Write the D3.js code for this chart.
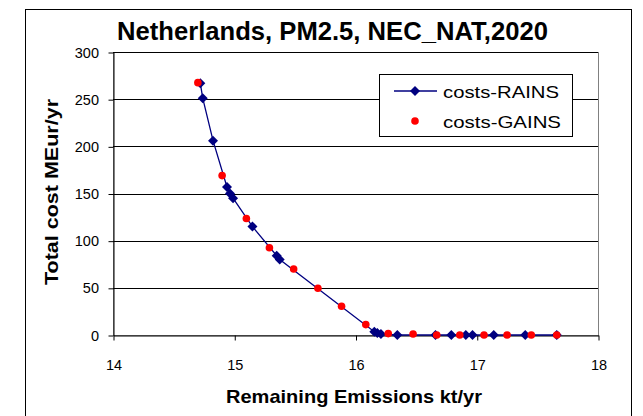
<!DOCTYPE html>
<html>
<head>
<meta charset="utf-8">
<script src="https://cdn.jsdelivr.net/npm/d3@7"></script>
<style>
  html, body { margin: 0; padding: 0; background: #fff; }
  svg { display: block; font-family: "Liberation Sans", Arial, sans-serif; }
</style>
</head>
<body>
<svg id="chart" width="643" height="416"></svg>
<script>
// Cost curve: remaining emissions (kt/yr) vs total cost (MEur/yr)
const rainsEmissions = [14.72, 14.74, 14.825, 14.94, 14.965, 14.99, 15.15, 15.35, 15.375,
                        16.155, 16.18, 16.21, 16.345, 16.66, 16.79, 16.91, 16.965, 17.14, 17.40, 17.66];
const rainsCosts     = [267, 251, 206, 157, 150, 145, 115, 84, 80,
                        3.5, 2, 1, 0, 0, 0, 0, 0, 0, 0, 0];

const gainsEmissions = [14.70, 14.90, 15.10, 15.29, 15.49, 15.69, 15.885, 16.085,
                        16.27, 16.475, 16.67, 16.86, 17.06, 17.25, 17.45, 17.66];
const gainsCosts     = [267.5, 169, 123.5, 92.5, 70, 49.5, 30.5, 11,
                        1.5, 1, 0, 0, 0, 0, 0, 0];

const xTicks = [14, 15, 16, 17, 18];
const yTicks = [0, 50, 100, 150, 200, 250, 300];

const titleText = "Netherlands, PM2.5, NEC_NAT,2020";
const xLabel = "Remaining Emissions kt/yr";
const yLabel = "Total cost MEur/yr";
const seriesNames = ["costs-RAINS", "costs-GAINS"];

const svg = d3.select("#chart");

const plot = { left: 113, right: 598, top: 52, bottom: 335 };
const x = d3.scaleLinear().domain([14, 18]).range([plot.left, plot.right]);
const y = d3.scaleLinear().domain([0, 300]).range([plot.bottom, plot.top]);

// outer chart frame
svg.append("rect")
  .attr("x", 25.5).attr("y", 9.5)
  .attr("width", 606).attr("height", 420)
  .attr("fill", "#fff").attr("stroke", "#000").attr("stroke-width", 1);

// plot area frame
svg.append("rect")
  .attr("x", plot.left + 0.5).attr("y", plot.top + 0.5)
  .attr("width", plot.right - plot.left).attr("height", plot.bottom - plot.top)
  .attr("fill", "#fff").attr("stroke", "#808080").attr("stroke-width", 1);

// horizontal gridlines
svg.append("g")
  .selectAll("line")
  .data(yTicks.filter(d => d > 0))
  .join("line")
  .attr("x1", plot.left).attr("x2", plot.right)
  .attr("y1", d => Math.round(y(d)) + 0.5).attr("y2", d => Math.round(y(d)) + 0.5)
  .attr("stroke", "#000").attr("stroke-width", 1);

// axes
const xAxis = d3.axisBottom(x).tickValues(xTicks).tickFormat(d3.format("d"))
  .tickSize(5).tickSizeOuter(0).tickPadding(19);
const yAxis = d3.axisLeft(y).tickValues(yTicks).tickFormat(d3.format("d"))
  .tickSize(5).tickSizeOuter(0).tickPadding(9.5);

const gx = svg.append("g")
  .attr("transform", `translate(0.5,${Math.round(y(0)) + 0.5})`)
  .call(xAxis);
const gy = svg.append("g")
  .attr("transform", `translate(${plot.left + 0.5},0.5)`)
  .call(yAxis);

gx.selectAll(".tick line").attr("y2", 5);
gx.selectAll(".tick text").attr("y", 24);

[gx, gy].forEach(g => {
  g.select(".domain").attr("stroke", "#000");
  g.selectAll(".tick line").attr("stroke", "#000");
  g.selectAll(".tick text")
    .attr("fill", "#000")
    .style("font-family", "'Liberation Sans', Arial, sans-serif")
    .style("font-size", "14.5px");
});

// RAINS series: line with diamond markers
const line = d3.line().x(d => x(d[0])).y(d => y(d[1]));
const rainsPts = rainsEmissions.map((e, i) => [e, rainsCosts[i]]);
const gainsPts = gainsEmissions.map((e, i) => [e, gainsCosts[i]]);

svg.append("path")
  .datum(rainsPts)
  .attr("d", line)
  .attr("fill", "none")
  .attr("stroke", "#000080")
  .attr("stroke-width", 1.3);

const diamondPath = d3.symbol().type(d3.symbolSquare).size(50);
svg.append("g")
  .selectAll("path")
  .data(rainsPts)
  .join("path")
  .attr("d", diamondPath)
  .attr("transform", d => `translate(${x(d[0])},${y(d[1])}) rotate(45)`)
  .attr("fill", "#000080");

// GAINS series: red dots
svg.append("g")
  .selectAll("circle")
  .data(gainsPts)
  .join("circle")
  .attr("cx", d => x(d[0]))
  .attr("cy", d => y(d[1]))
  .attr("r", 3.8)
  .attr("fill", "#ff0000");

// title and axis titles
svg.append("text")
  .attr("x", 332.5).attr("y", 40)
  .attr("text-anchor", "middle")
  .attr("textLength", 431).attr("lengthAdjust", "spacingAndGlyphs")
  .style("font-weight", "bold").style("font-size", "25px")
  .text(titleText);

svg.append("text")
  .attr("x", 354).attr("y", 403)
  .attr("text-anchor", "middle")
  .attr("textLength", 256).attr("lengthAdjust", "spacingAndGlyphs")
  .style("font-weight", "bold").style("font-size", "19px")
  .text(xLabel);

svg.append("text")
  .attr("transform", "translate(58,192) rotate(-90)")
  .attr("text-anchor", "middle")
  .attr("textLength", 186).attr("lengthAdjust", "spacingAndGlyphs")
  .style("font-weight", "bold").style("font-size", "19px")
  .text(yLabel);

// legend
const legend = svg.append("g");
legend.append("rect")
  .attr("x", 379.5).attr("y", 74.5)
  .attr("width", 193).attr("height", 62)
  .attr("fill", "#fff").attr("stroke", "#000").attr("stroke-width", 1);
legend.append("line")
  .attr("x1", 394).attr("x2", 437).attr("y1", 91).attr("y2", 91)
  .attr("stroke", "#000080").attr("stroke-width", 1.3);
legend.append("path")
  .attr("d", diamondPath)
  .attr("transform", "translate(415,91) rotate(45)")
  .attr("fill", "#000080");
legend.append("circle")
  .attr("cx", 415).attr("cy", 121).attr("r", 3.8)
  .attr("fill", "#ff0000");
legend.selectAll("text.lbl")
  .data(seriesNames)
  .join("text")
  .attr("class", "lbl")
  .attr("x", 443)
  .attr("y", (d, i) => 98 + i * 30)
  .attr("textLength", (d, i) => [116, 118][i])
  .attr("lengthAdjust", "spacingAndGlyphs")
  .style("font-size", "16.5px")
  .text(d => d);
</script>
</body>
</html>
